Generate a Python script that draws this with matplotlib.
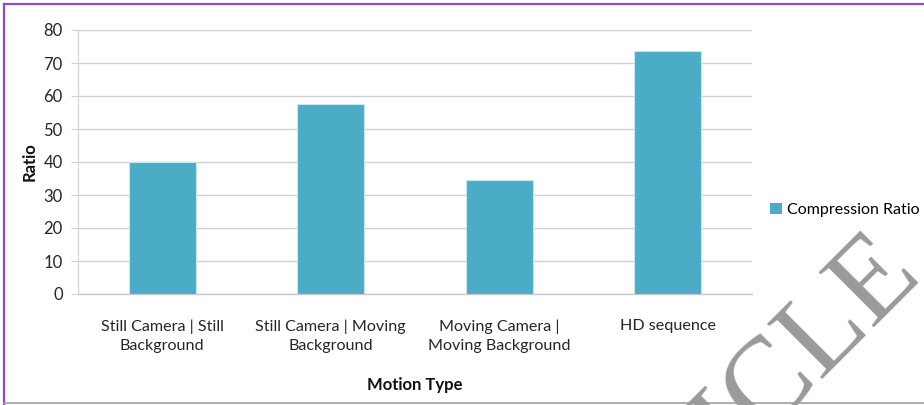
import matplotlib
matplotlib.use("Agg")
import matplotlib.pyplot as plt
from matplotlib.lines import Line2D
from matplotlib.patches import Patch
import numpy as np

categories = ["Still Camera | Still\nBackground",
              "Still Camera | Moving\nBackground",
              "Moving Camera |\nMoving Background",
              "HD sequence"]
compression_ratio = [40.0, 57.7, 34.6, 73.5]
y_ticks = [0, 10, 20, 30, 40, 50, 60, 70, 80]

plt.rcParams["font.family"] = ["Lato", "DejaVu Sans"]

W, H = 924, 405
fig = plt.figure(figsize=(W / 100, H / 100), dpi=100)
ax = fig.add_axes([78 / W, 1 - 294 / H, (752 - 78) / W, (294 - 30) / H])

bar_color = "#4BACC6"
x = np.arange(len(categories))
ax.bar(x, compression_ratio, width=0.4, color=bar_color,
       edgecolor="#C8E6F0", linewidth=0.8, zorder=3,
       label="Compression Ratio")

ax.set_xlim(-0.5, len(categories) - 0.5)
ax.set_ylim(0, 80)
ax.set_yticks(y_ticks)
ax.set_yticklabels([str(t) for t in y_ticks], fontsize=12, color="#262626")
ax.set_xticks(x)
ax.set_xticklabels(categories, fontsize=11.6, color="#262626", linespacing=1.5)
ax.tick_params(axis="y", length=5, color="#D0D0D0", pad=6)
ax.tick_params(axis="x", length=0, pad=18)

ax.grid(axis="y", color="#D0D0D0", linewidth=1.0, zorder=0)
for side in ("top", "right"):
    ax.spines[side].set_visible(False)
ax.spines["left"].set_color("#D9D9D9")
ax.spines["bottom"].set_color("#C8C8C8")
ax.spines["left"].set_linewidth(1.0)
ax.spines["bottom"].set_linewidth(1.0)

ax.set_ylabel("Ratio", fontsize=12, fontweight="bold", color="#111111", labelpad=4)
ax.set_xlabel("Motion Type", fontsize=12, fontweight="bold", color="#111111", labelpad=17)

handle = Patch(facecolor=bar_color, edgecolor="none")
fig.legend([handle], ["Compression Ratio"], loc="center left",
           bbox_to_anchor=(764 / W, 1 - 210 / H), frameon=False,
           fontsize=11.5, handlelength=0.75, handleheight=0.75,
           handletextpad=0.3, borderaxespad=0)

# frame around the figure
fig.add_artist(Line2D([4 / W, 4 / W], [0, 1 - 4 / H], transform=fig.transFigure,
                      color="#8A4CC8", linewidth=1.6))
fig.add_artist(Line2D([4 / W, 1], [1 - 4 / H, 1 - 4 / H], transform=fig.transFigure,
                      color="#8A4CC8", linewidth=1.6))
fig.add_artist(Line2D([4 / W, 1], [1 - 403 / H, 1 - 403 / H], transform=fig.transFigure,
                      color="#A0A0A0", linewidth=1.2))

# diagonal watermark
fig.text(924 / W, 1 - 276 / H, "ARTICLE", rotation=45, rotation_mode="anchor",
         ha="right", va="baseline", fontsize=86, color="#9A9A9A",
         family="Liberation Serif", zorder=10)

fig.savefig("out.png", dpi=100)
